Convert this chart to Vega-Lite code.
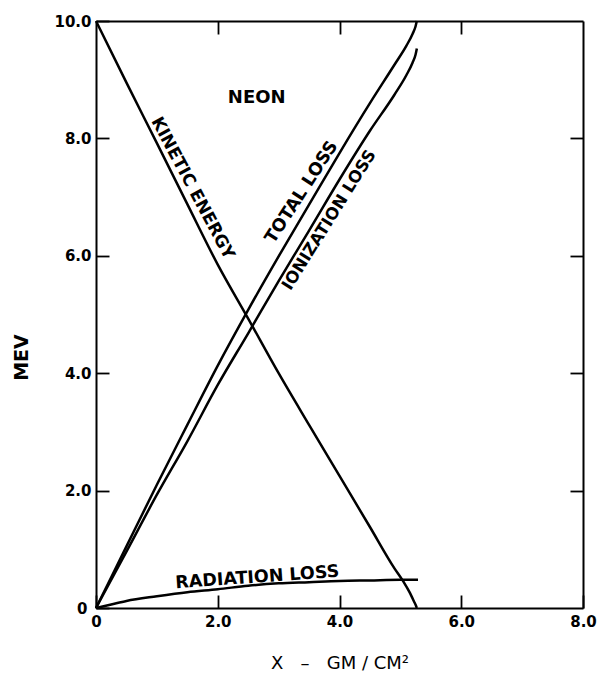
{
  "$schema": "https://vega.github.io/schema/vega-lite/v6.json",
  "width": 487,
  "height": 587,
  "autosize": {"type": "none"},
  "padding": {"left": 96, "top": 21, "right": 18, "bottom": 68},
  "background": "white",
  "config": {
    "view": {"stroke": null},
    "axis": {
      "grid": false,
      "domainColor": "black",
      "domainWidth": 2,
      "tickColor": "black",
      "tickWidth": 1.8,
      "labelColor": "black",
      "labelFont": "DejaVu Sans",
      "labelFontWeight": "bold",
      "labelFontSize": 15,
      "labelFlush": false,
      "labelOverlap": false,
      "titleColor": "black",
      "titleFont": "DejaVu Sans",
      "titleFontWeight": "bold"
    }
  },
  "datasets": {
    "curves": [
      {"series": "kinetic", "x": 0, "y": 10},
      {"series": "kinetic", "x": 0.5, "y": 8.95},
      {"series": "kinetic", "x": 1.0, "y": 7.92},
      {"series": "kinetic", "x": 1.5, "y": 6.88},
      {"series": "kinetic", "x": 2.0, "y": 5.85},
      {"series": "kinetic", "x": 2.5, "y": 4.93},
      {"series": "kinetic", "x": 3.0, "y": 4.0},
      {"series": "kinetic", "x": 3.5, "y": 3.12},
      {"series": "kinetic", "x": 4.0, "y": 2.25},
      {"series": "kinetic", "x": 4.5, "y": 1.38},
      {"series": "kinetic", "x": 4.9, "y": 0.68},
      {"series": "kinetic", "x": 5.05, "y": 0.45},
      {"series": "kinetic", "x": 5.15, "y": 0.27},
      {"series": "kinetic", "x": 5.22, "y": 0.12},
      {"series": "kinetic", "x": 5.26, "y": 0.03},
      {"series": "kinetic", "x": 5.27, "y": 0},
      {"series": "total", "x": 0, "y": 0},
      {"series": "total", "x": 0.5, "y": 1.05},
      {"series": "total", "x": 1.0, "y": 2.1},
      {"series": "total", "x": 1.5, "y": 3.12},
      {"series": "total", "x": 2.0, "y": 4.13},
      {"series": "total", "x": 2.5, "y": 5.08},
      {"series": "total", "x": 3.0, "y": 5.99},
      {"series": "total", "x": 3.5, "y": 6.87},
      {"series": "total", "x": 4.0, "y": 7.75},
      {"series": "total", "x": 4.5, "y": 8.6},
      {"series": "total", "x": 4.9, "y": 9.25},
      {"series": "total", "x": 5.1, "y": 9.58},
      {"series": "total", "x": 5.2, "y": 9.78},
      {"series": "total", "x": 5.25, "y": 9.91},
      {"series": "total", "x": 5.27, "y": 10.0},
      {"series": "ionization", "x": 0, "y": 0},
      {"series": "ionization", "x": 0.5, "y": 0.96},
      {"series": "ionization", "x": 1.0, "y": 1.93},
      {"series": "ionization", "x": 1.5, "y": 2.84},
      {"series": "ionization", "x": 2.0, "y": 3.8},
      {"series": "ionization", "x": 2.5, "y": 4.68},
      {"series": "ionization", "x": 3.0, "y": 5.57},
      {"series": "ionization", "x": 3.5, "y": 6.43},
      {"series": "ionization", "x": 4.0, "y": 7.3},
      {"series": "ionization", "x": 4.5, "y": 8.13},
      {"series": "ionization", "x": 4.9, "y": 8.74},
      {"series": "ionization", "x": 5.1, "y": 9.08},
      {"series": "ionization", "x": 5.2, "y": 9.29},
      {"series": "ionization", "x": 5.25, "y": 9.43},
      {"series": "ionization", "x": 5.27, "y": 9.53},
      {"series": "radiation", "x": 0, "y": 0},
      {"series": "radiation", "x": 0.25, "y": 0.06},
      {"series": "radiation", "x": 0.5, "y": 0.12},
      {"series": "radiation", "x": 1.0, "y": 0.2},
      {"series": "radiation", "x": 1.5, "y": 0.27},
      {"series": "radiation", "x": 2.0, "y": 0.32},
      {"series": "radiation", "x": 2.5, "y": 0.38},
      {"series": "radiation", "x": 3.0, "y": 0.42},
      {"series": "radiation", "x": 3.5, "y": 0.44},
      {"series": "radiation", "x": 4.0, "y": 0.46},
      {"series": "radiation", "x": 4.5, "y": 0.47},
      {"series": "radiation", "x": 5.0, "y": 0.48},
      {"series": "radiation", "x": 5.29, "y": 0.48}
    ],
    "labels": [
      {"label": "NEON", "x": 2.64, "y": 8.69, "angle": 0, "size": 18},
      {"label": "KINETIC ENERGY", "x": 1.585, "y": 7.15, "angle": 62, "size": 17},
      {"label": "TOTAL LOSS", "x": 3.38, "y": 7.08, "angle": -57, "size": 17.5},
      {"label": "IONIZATION LOSS", "x": 3.83, "y": 6.61, "angle": -58, "size": 16.5},
      {"label": "RADIATION LOSS", "x": 2.65, "y": 0.52, "angle": -4, "size": 17.5}
    ]
  },
  "resolve": {"axis": {"x": "independent", "y": "independent"}},
  "layer": [
    {
      "data": {"name": "curves"},
      "mark": {"type": "line", "color": "black", "strokeWidth": 2.5, "interpolate": "monotone"},
      "encoding": {
        "x": {
          "field": "x", "type": "quantitative",
          "scale": {"domain": [0, 8], "nice": false},
          "axis": {
            "orient": "bottom",
            "values": [0, 2, 4, 6, 8],
            "labelExpr": "datum.value == 0 ? '0' : format(datum.value, '.1f')",
            "tickSize": -13,
            "labelPadding": 19,
            "title": "X\u00a0\u00a0\u00a0–\u00a0\u00a0\u00a0GM\u00a0/\u00a0CM²",
            "titleFontSize": 18,
            "titleFontWeight": "normal",
            "titleBaseline": "middle",
            "titleY": 55
          }
        },
        "y": {
          "field": "y", "type": "quantitative",
          "scale": {"domain": [0, 10], "nice": false},
          "axis": {
            "orient": "left",
            "values": [0, 2, 4, 6, 8, 10],
            "labelExpr": "datum.value == 0 ? '0' : format(datum.value, '.1f')",
            "tickSize": -13,
            "labelPadding": {"condition": {"test": "datum.value == 0", "value": 22}, "value": 18},
            "title": "MEV",
            "titleFontSize": 19,
            "titleAngle": 270,
            "titleBaseline": "middle",
            "titleAlign": "center",
            "titleX": -75,
            "titleY": 336
          }
        },
        "detail": {"field": "series", "type": "nominal"}
      }
    },
    {
      "data": {"name": "labels"},
      "mark": {"type": "text", "font": "DejaVu Sans", "fontWeight": "bold", "color": "black", "align": "center", "baseline": "middle"},
      "encoding": {
        "x": {
          "field": "x", "type": "quantitative",
          "scale": {"domain": [0, 8], "nice": false},
          "axis": {"orient": "top", "values": [2, 4, 6], "labels": false, "tickSize": -13, "title": null}
        },
        "y": {
          "field": "y", "type": "quantitative",
          "scale": {"domain": [0, 10], "nice": false},
          "axis": {"orient": "right", "values": [2, 4, 6, 8], "labels": false, "tickSize": -13, "title": null}
        },
        "text": {"field": "label", "type": "nominal"},
        "angle": {"field": "angle", "type": "quantitative", "scale": null},
        "size": {"field": "size", "type": "quantitative", "scale": null}
      }
    }
  ]
}
